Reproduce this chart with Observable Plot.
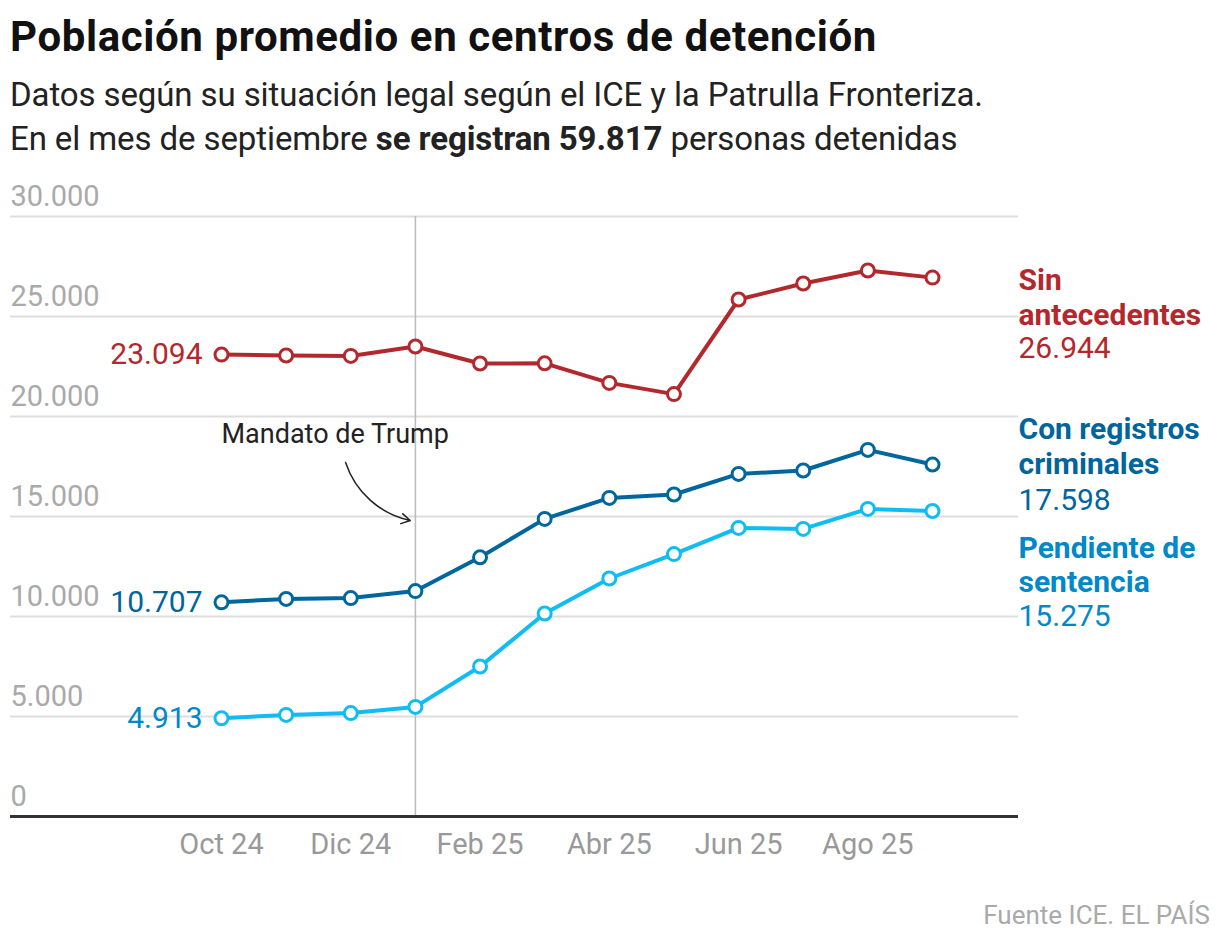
<!DOCTYPE html>
<html>
<head>
<meta charset="utf-8">
<script src="https://cdn.jsdelivr.net/npm/d3@7"></script>
<script src="https://cdn.jsdelivr.net/npm/@observablehq/plot@0.6"></script>
<style>
  body { margin: 0; background: #fff; font-family: Roboto, "Noto Sans", sans-serif; }
  #wrap { width: 1220px; }
  #head { position: relative; height: 170px; }
  h1 { position: absolute; left: 10px; top: 12px; margin: 0; font-size: 42px; font-weight: 700; color: #111; letter-spacing: 0.6px; line-height: 50px; white-space: nowrap; }
  .sub { position: absolute; left: 10px; margin: 0; font-size: 33px; color: #222; line-height: 44px; letter-spacing: -0.1px; white-space: nowrap; }
  .sub b { font-weight: 700; }
  #chart { height: 720px; }
  #src { text-align: right; padding-right: 10px; margin-top: 10px; font-size: 26px; line-height: 30px; color: #aaa; }
</style>
</head>
<body>
<div id="wrap">
  <div id="head">
    <h1>Población promedio en centros de detención</h1>
    <p class="sub" style="top:73px">Datos según su situación legal según el ICE y la Patrulla Fronteriza.</p>
    <p class="sub" style="top:117px">En el mes de septiembre <b>se registran 59.817</b> personas detenidas</p>
  </div>
  <div id="chart"></div>
  <div id="src">Fuente ICE. EL PAÍS</div>
</div>
<script>
// months shown (Oct 2024 - Sep 2025)
const months = ["Oct 24", "Nov 24", "Dic 24", "Ene 25", "Feb 25", "Mar 25", "Abr 25", "May 25", "Jun 25", "Jul 25", "Ago 25", "Sep 25"];

// series
const sinAntecedentes = [23094, 23050, 23030, 23500, 22650, 22660, 21680, 21120, 25850, 26650, 27300, 26944];
const conRegistros = [10707, 10880, 10920, 11270, 12960, 14880, 15930, 16100, 17130, 17300, 18330, 17598];
const pendientes = [4913, 5080, 5170, 5480, 7500, 10150, 11900, 13120, 14430, 14380, 15380, 15275];

const seriesNames = [["Sin", "antecedentes"], ["Con registros", "criminales"], ["Pendiente de", "sentencia"]];
const lineColors = ["#b3282d", "#00679e", "#10bdf2"];
const textColors = ["#b3282d", "#00659c", "#0088c8"];
// right-hand label offsets from the last point, px (name, value)
const nameDy = [-12, -50, 22];
const valueDy = [59, 24, 94];

const yTicks = [0, 5000, 10000, 15000, 20000, 25000, 30000];
const xTicks = [0, 2, 4, 6, 8, 10];

const fmt = d3.formatLocale({decimal: ",", thousands: ".", grouping: [3]}).format(",d");

const allSeries = [sinAntecedentes, conRegistros, pendientes];
const rows = allSeries.flatMap((vals, s) => vals.map((v, i) => ({s, i, v})));
const firsts = rows.filter(d => d.i === 0);
const lasts = rows.filter(d => d.i === months.length - 1);

const step = (932 - 221) / 11;
const xDomain = [-(221 - 10) / step, 11 + (1018 - 932) / step];

const rightLabels = lasts.flatMap(d => [
  Plot.text([d], {x: () => xDomain[1], y: "v", text: () => seriesNames[d.s].join("\n"), textAnchor: "start", lineAnchor: "top", lineHeight: 1.15, dy: nameDy[d.s], fontSize: 30, fontWeight: 700, fill: textColors[d.s]}),
  Plot.text([d], {x: () => xDomain[1], y: "v", text: () => fmt(d.v), textAnchor: "start", lineAnchor: "top", dy: valueDy[d.s], fontSize: 30, fill: textColors[d.s]})
]);

const plot = Plot.plot({
  width: 1220,
  height: 720,
  marginTop: 46,
  marginBottom: 74,
  marginLeft: 10,
  marginRight: 202,
  style: {fontFamily: "Roboto, sans-serif", overflow: "visible"},
  x: {type: "linear", domain: xDomain},
  y: {domain: [0, 30000]},
  color: {domain: [0, 1, 2], range: lineColors},
  marks: [
    Plot.gridY(yTicks, {stroke: "#dedede", strokeOpacity: 1, strokeWidth: 2}),
    Plot.axisY(yTicks, {anchor: "left", tickSize: 0, tickPadding: 0, textAnchor: "start", dy: -20, fontSize: 29, fill: "#aaa", tickFormat: fmt, label: null}),
    Plot.axisX(xTicks, {anchor: "bottom", tickSize: 0, tickPadding: 17, fontSize: 29, fill: "#999", tickFormat: i => months[i], label: null}),
    Plot.ruleX([3], {y1: 0, y2: 30000, stroke: "#bbb", strokeWidth: 1.5}),
    Plot.ruleY([0], {stroke: "#333", strokeWidth: 3}),
    Plot.line(rows, {x: "i", y: "v", z: "s", stroke: "s", strokeWidth: 4}),
    Plot.dot(rows, {x: "i", y: "v", stroke: "s", fill: "white", r: 6.5, strokeWidth: 3}),
    Plot.text(firsts, {x: "i", y: "v", text: d => fmt(d.v), textAnchor: "end", dx: -19, fontSize: 30, fill: d => textColors[d.s]}),
    ...rightLabels,
    Plot.text([0], {x: 0, y: 19100, text: () => "Mandato de Trump", textAnchor: "start", fontSize: 27, fill: "#222"}),
    Plot.arrow([0], {x1: 1.92, y1: 17700, x2: 2.92, y2: 14800, bend: -30, stroke: "#222", strokeWidth: 1.5, headLength: 10})
  ]
});

document.getElementById("chart").appendChild(plot);
</script>
</body>
</html>
